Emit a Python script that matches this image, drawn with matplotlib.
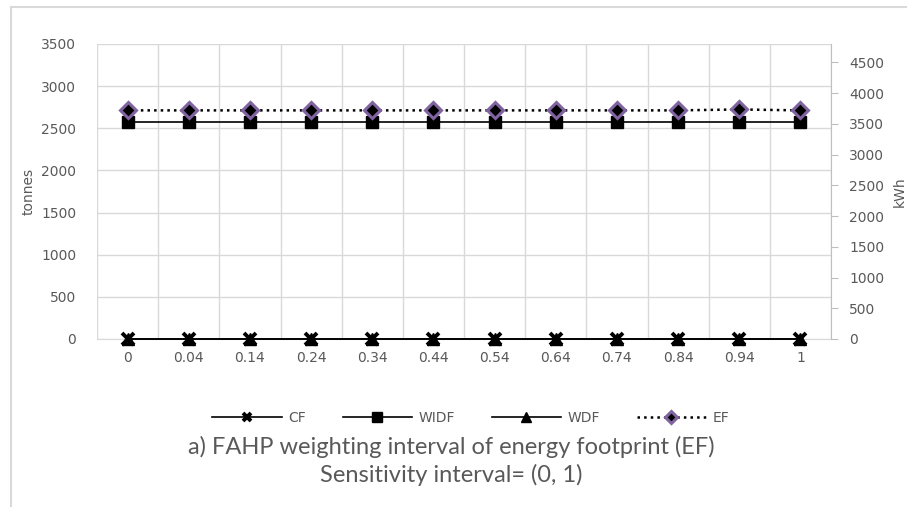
import numpy as np
import matplotlib
matplotlib.use("Agg")
from matplotlib import pyplot as plt
from matplotlib.patches import Rectangle

x_labels = ['0', '0.04', '0.14', '0.24', '0.34', '0.44', '0.54', '0.64', '0.74', '0.84', '0.94', '1']
cf = [0, 0, 0, 0, 0, 0, 0, 0, 0, 0, 0, 0]
widf = [2580, 2580, 2580, 2580, 2580, 2580, 2580, 2580, 2580, 2580, 2580, 2580]
wdf = [0, 0, 0, 0, 0, 0, 0, 0, 0, 0, 0, 0]
ef = [3720, 3720, 3720, 3720, 3720, 3720, 3720, 3720, 3720, 3720, 3735, 3720]

grey = '#595959'
grid_col = '#d9d9d9'
purple = '#8064a2'

plt.rcParams['font.family'] = ['DejaVu Sans']

fig = plt.figure(figsize=(9.07, 5.07), dpi=100)
fig.patches.append(Rectangle((11/907, -0.1), 1.2, 1 - 7/507 + 0.1, transform=fig.transFigure,
                             fill=False, edgecolor='#d9d9d9', linewidth=1.5))

ax1 = fig.add_axes([97/907, 1 - 339/507, 734/907, 295/507])
ax2 = ax1.twinx()

x = np.arange(len(x_labels))

ax1.plot(x, cf, color='black', lw=1.2, marker='x', ms=8, mew=2.8, label='CF', zorder=3, clip_on=False)
ax1.plot(x, widf, color='black', lw=1.2, marker='s', ms=8.5, label='WIDF', zorder=3, clip_on=False)
ax1.plot(x, wdf, color='black', lw=1.2, marker='^', ms=8.5, label='WDF', zorder=3, clip_on=False)
ax2.plot(x, ef, color='black', lw=1.8, ls=':', marker='D', ms=8, mfc='black', mec=purple, mew=2.2,
         label='EF', zorder=3, clip_on=False)

ax1.set_xlim(-0.5, len(x_labels) - 0.5)
ax1.set_ylim(0, 3500)
ax2.set_ylim(0, 4800)
ax1.set_yticks(np.arange(0, 3501, 500))
ax2.set_yticks(np.arange(0, 4501, 500))
ax1.set_xticks(x)
ax1.set_xticklabels(x_labels)
ax1.set_xticks(np.arange(-0.5, len(x_labels), 1), minor=True)

ax1.grid(True, axis='y', color=grid_col, lw=1)
ax1.grid(True, axis='x', which='minor', color=grid_col, lw=1)
ax1.set_axisbelow(True)

for a in (ax1, ax2):
    for s in a.spines.values():
        s.set_visible(False)
ax1.spines['bottom'].set_visible(True)
ax1.spines['bottom'].set_color(grid_col)
ax2.spines['right'].set_visible(True)
ax2.spines['right'].set_color('#bfbfbf')

ax1.tick_params(axis='x', which='both', length=0, labelsize=10, labelcolor=grey, pad=9)
ax1.tick_params(axis='y', length=0, labelsize=10, labelcolor=grey, pad=15)
ax2.tick_params(axis='y', length=5, color='#bfbfbf', labelsize=10, labelcolor=grey, pad=8)

ax1.set_ylabel('tonnes', color=grey, fontsize=10, labelpad=4)
ax2.set_ylabel('kWh', color=grey, fontsize=10, rotation=90, labelpad=6)

h1, l1 = ax1.get_legend_handles_labels()
h2, l2 = ax2.get_legend_handles_labels()
fig.legend(h1 + h2, l1 + l2, loc='center', bbox_to_anchor=(471/907, 1 - 418/507), ncol=4,
           frameon=False, handlelength=5, columnspacing=2.6, handletextpad=0.5,
           labelcolor=grey, prop={'size': 10}, markerscale=0.8)

fig.text(451/907, 1 - 447/507, 'a) FAHP weighting interval of energy footprint (EF)',
         ha='center', va='center', fontsize=17, color=grey, family='Lato')
fig.text(451/907, 1 - 475/507, 'Sensitivity interval= (0, 1)',
         ha='center', va='center', fontsize=17, color=grey, family='Lato')

fig.savefig('out.png', dpi=100)
